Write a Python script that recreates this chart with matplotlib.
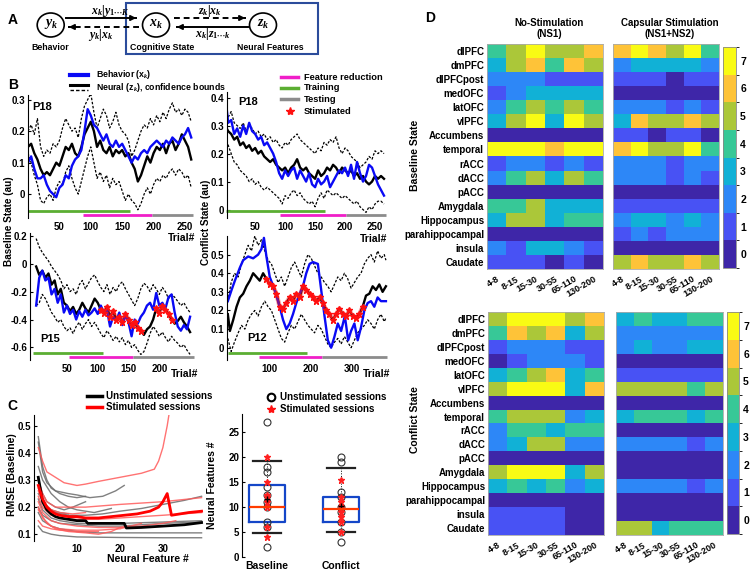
import numpy as np
import matplotlib
matplotlib.use('Agg')
import matplotlib.pyplot as plt
from matplotlib.colors import ListedColormap, BoundaryNorm
from matplotlib.patches import Ellipse, Rectangle
from matplotlib.ticker import FuncFormatter

plt.rcParams['font.family'] = ['Liberation Sans', 'DejaVu Sans']
plt.rcParams['font.weight'] = 'bold'
plt.rcParams['axes.labelweight'] = 'bold'
plt.rcParams['axes.unicode_minus'] = False
plt.rcParams['mathtext.fontset'] = 'custom'
plt.rcParams['mathtext.rm'] = 'Liberation Serif:bold'
plt.rcParams['mathtext.it'] = 'Liberation Serif:italic:bold'
plt.rcParams['mathtext.bf'] = 'Liberation Serif:bold'

# ---------------- Panel B data ----------------
p18b_t = np.arange(0, 261, 5)
p18b_beh = [0.10,0.12,0.08,0.05,0.05,0.06,0.03,0.01,0.00,-0.01,
            0.02,0.03,0.06,0.05,0.09,0.11,0.12,0.14,0.20,0.27,
            0.25,0.22,0.21,0.19,0.17,0.19,0.16,0.15,0.17,0.15,
            0.16,0.14,0.12,0.10,0.12,0.11,0.13,0.14,0.13,0.15,
            0.16,0.17,0.16,0.15,0.17,0.16,0.18,0.17,0.16,0.18,
            0.19,0.21,0.18]
p18b_neu = [0.15,0.16,0.13,0.11,0.08,0.06,0.07,0.06,0.08,0.10,
            0.09,0.12,0.15,0.14,0.16,0.13,0.12,0.15,0.19,0.21,
            0.23,0.20,0.15,0.17,0.14,0.13,0.15,0.12,0.14,0.13,
            0.14,0.12,0.13,0.10,0.08,0.04,0.06,0.09,0.12,0.10,
            0.13,0.15,0.14,0.16,0.13,0.16,0.17,0.14,0.16,0.19,
            0.17,0.15,0.11]
p18b_up = [0.20,0.22,0.19,0.24,0.15,0.12,0.14,0.13,0.16,0.15,
           0.17,0.21,0.24,0.22,0.20,0.21,0.18,0.24,0.28,0.30,
           0.32,0.26,0.21,0.24,0.27,0.25,0.21,0.23,0.26,0.22,
           0.20,0.19,0.17,0.12,0.14,0.17,0.20,0.22,0.21,0.24,
           0.22,0.25,0.23,0.26,0.24,0.27,0.29,0.26,0.27,0.25,
           0.27,0.26,0.23]
p18b_lo = [0.13,0.10,0.06,0.03,-0.02,-0.03,-0.01,0.00,-0.02,0.02,
           0.04,0.03,0.07,0.09,0.05,0.02,0.00,0.04,0.08,0.12,
           0.15,0.10,0.05,0.07,0.04,0.06,0.02,0.05,0.03,0.04,
           0.01,-0.02,0.00,-0.02,-0.03,-0.05,-0.03,0.00,0.02,0.00,
           0.03,0.05,0.04,0.06,0.05,0.07,0.08,0.06,0.08,0.07,
           0.05,0.06,0.02]
p18b_train = [0, 163]
p18b_feat = [88, 197]
p18b_test = [197, 263]

p18c_t = np.arange(0, 266, 5)
p18c_beh = [0.41,0.31,0.32,0.27,0.29,0.26,0.30,0.27,0.31,0.28,
            0.27,0.25,0.26,0.23,0.24,0.22,0.20,0.17,0.13,0.11,
            0.14,0.12,0.14,0.15,0.11,0.14,0.12,0.10,0.13,0.09,
            0.08,0.11,0.09,0.10,0.12,0.08,0.10,0.12,0.14,0.13,
            0.15,0.12,0.16,0.11,0.17,0.13,0.10,0.12,0.16,0.15,
            0.12,0.09,0.07,0.05]
p18c_neu = [0.30,0.28,0.27,0.25,0.26,0.23,0.24,0.22,0.23,0.21,
            0.22,0.20,0.21,0.19,0.18,0.17,0.18,0.16,0.15,0.14,
            0.15,0.13,0.15,0.16,0.18,0.15,0.14,0.15,0.13,0.12,
            0.11,0.14,0.12,0.13,0.15,0.14,0.16,0.15,0.13,0.15,
            0.14,0.13,0.14,0.12,0.13,0.11,0.12,0.10,0.09,0.10,
            0.12,0.11,0.12,0.11]
p18c_up = [0.34,0.33,0.35,0.31,0.30,0.29,0.31,0.28,0.30,0.29,
           0.27,0.28,0.26,0.27,0.25,0.26,0.24,0.25,0.23,0.22,
           0.24,0.23,0.25,0.26,0.27,0.25,0.24,0.23,0.22,0.21,
           0.20,0.22,0.21,0.24,0.23,0.25,0.24,0.26,0.22,0.20,
           0.22,0.21,0.19,0.18,0.17,0.15,0.16,0.17,0.19,0.18,
           0.21,0.20,0.21,0.20]
p18c_lo = [0.26,0.23,0.20,0.17,0.16,0.14,0.13,0.12,0.10,0.11,
           0.09,0.10,0.08,0.07,0.08,0.07,0.06,0.05,0.04,0.02,
           0.05,0.04,0.06,0.07,0.05,0.06,0.04,0.03,0.02,0.03,
           0.01,0.04,0.06,0.04,0.07,0.06,0.05,0.06,0.05,0.04,
           0.05,0.04,0.03,0.02,0.03,0.01,0.00,-0.01,0.01,0.00,
           0.02,0.03,0.03,0.02]
p18c_train = [2, 166]
p18c_feat = [92, 202]
p18c_test = [202, 268]

p15_t = np.arange(0, 251, 5)
p15_beh = [-0.30,-0.10,-0.05,-0.12,-0.10,-0.22,-0.18,-0.28,-0.22,-0.35,
           -0.30,-0.36,-0.33,-0.40,-0.34,-0.38,-0.33,-0.37,-0.35,-0.32,
           -0.36,-0.30,-0.35,-0.33,-0.45,-0.38,-0.41,-0.35,-0.44,-0.37,
           -0.42,-0.52,-0.40,-0.43,-0.38,-0.35,-0.30,-0.28,-0.33,-0.21,
           -0.30,-0.28,-0.32,-0.24,-0.22,-0.35,-0.45,-0.48,-0.44,-0.47,
           -0.38]
p15_neu = [-0.02,-0.08,-0.05,-0.10,-0.07,-0.15,-0.12,-0.22,-0.18,-0.28,
           -0.30,-0.34,-0.31,-0.36,-0.33,-0.28,-0.32,-0.35,-0.30,-0.25,
           -0.28,-0.33,-0.35,-0.31,-0.38,-0.34,-0.40,-0.38,-0.42,-0.36,
           -0.40,-0.44,-0.42,-0.46,-0.48,-0.51,-0.47,-0.45,-0.40,-0.32,
           -0.35,-0.30,-0.33,-0.36,-0.40,-0.43,-0.41,-0.38,-0.42,-0.45,
           -0.49]
p15_up = [0.18,0.12,0.08,0.05,0.02,-0.02,-0.05,-0.08,-0.12,-0.18,
          -0.15,-0.20,-0.18,-0.22,-0.15,-0.12,-0.18,-0.14,-0.10,-0.08,
          -0.13,-0.17,-0.20,-0.15,-0.22,-0.17,-0.20,-0.15,-0.13,-0.18,
          -0.22,-0.26,-0.30,-0.25,-0.18,-0.14,-0.16,-0.20,-0.15,-0.18,
          -0.22,-0.17,-0.20,-0.25,-0.22,-0.24,-0.27,-0.30,-0.28,-0.32,
          -0.35]
p15_lo = [-0.30,-0.28,-0.22,-0.25,-0.30,-0.35,-0.38,-0.42,-0.40,-0.45,
          -0.48,-0.46,-0.50,-0.45,-0.42,-0.47,-0.43,-0.40,-0.45,-0.42,
          -0.46,-0.50,-0.53,-0.48,-0.51,-0.55,-0.52,-0.56,-0.53,-0.58,
          -0.55,-0.60,-0.58,-0.62,-0.65,-0.63,-0.57,-0.50,-0.45,-0.48,
          -0.52,-0.49,-0.53,-0.56,-0.52,-0.55,-0.57,-0.60,-0.58,-0.62,
          -0.65]
p15_stim = [[105, 170], [195, 220]]
p15_train = [-5, 108]
p15_feat = [53, 158]
p15_test = [158, 256]

p12_tb = [0,9,17,29,37,49,61,73,81,87,93,101,113,125,133,141,149,157,165,173,
          181,189,197,205,217,225,233,241,249,257,265,273,282,290,297,305,313,321,329,337,
          345,353,361,369,377,381]
p12_beh = [0.25,0.31,0.36,0.43,0.47,0.49,0.48,0.50,0.53,0.59,0.49,0.38,0.31,0.22,0.15,0.10,0.13,0.18,0.24,0.29,
           0.33,0.40,0.45,0.46,0.45,0.31,0.17,0.04,0.00,0.06,0.13,0.09,0.17,0.04,0.09,0.13,0.04,0.11,0.20,0.24,
           0.25,0.22,0.27,0.25,0.25,0.25]
p12_tn = [0,5,13,21,29,37,45,53,61,69,77,85,93,101,109,117,125,133,141,149,
          157,165,173,181,189,197,205,213,221,229,237,245,253,261,269,277,285,293,301,309,
          317,325,333,341,349,357,365,373,381]
p12_neu = [0.18,0.09,0.15,0.22,0.27,0.29,0.33,0.36,0.40,0.38,0.36,0.40,0.37,0.34,0.33,0.29,0.22,0.21,0.24,0.27,
           0.25,0.29,0.27,0.33,0.31,0.29,0.27,0.25,0.27,0.24,0.20,0.18,0.15,0.18,0.21,0.18,0.17,0.20,0.17,0.16,
           0.18,0.22,0.28,0.29,0.33,0.31,0.34,0.30,0.33]
p12_tc = [0,8,16,25,33,41,49,57,65,73,81,89,97,105,113,121,129,137,145,153,
          161,169,177,185,193,201,209,217,225,233,241,249,257,265,273,281,289,297,305,313,
          321,329,337,345,353,361,369,377,381]
p12_up = [0.25,0.35,0.40,0.38,0.45,0.50,0.55,0.52,0.60,0.55,0.58,0.52,0.47,0.45,0.40,0.35,0.38,0.33,0.38,0.43,
          0.46,0.42,0.38,0.45,0.50,0.48,0.44,0.40,0.38,0.35,0.33,0.30,0.34,0.38,0.36,0.40,0.37,0.32,0.35,0.38,
          0.40,0.45,0.48,0.50,0.46,0.52,0.48,0.50,0.47]
p12_lo = [0.05,-0.02,0.03,0.08,0.12,0.10,0.15,0.18,0.20,0.17,0.22,0.25,0.22,0.20,0.15,0.10,0.05,0.03,0.08,0.12,
          0.10,0.14,0.18,0.15,0.12,0.10,0.08,0.12,0.10,0.06,0.02,0.00,0.03,0.05,0.02,0.06,0.03,0.00,0.04,0.08,
          0.10,0.12,0.15,0.13,0.10,0.15,0.18,0.14,0.16]
p12_stim = [[93, 325]]
p12_train = [0, 190]
p12_feat = [76, 228]
p12_test = [228, 384]

# ---------------- Panel C data ----------------
unstim_x = [[1,2,3,4,6,8,10,12],
            [1,2,3,5,8,10,13,16,19,21],
            [1,2,4,6,8,10,14,18],
            [1,3,5,8,12,16,20,25,30,35,39],
            [1,2,4,6,10,15,20,30,39],
            [1,2,4,6,10,20,30,39],
            [1,2,4,6,10,15,20,25,30,39],
            [1,2,4,6,10,15,20,30,39],
            [1,2,3,5,7,9,12],
            [1,2,4,6,8]]
unstim_y = [[0.46,0.35,0.30,0.27,0.25,0.24,0.235,0.24],
            [0.44,0.33,0.29,0.26,0.25,0.245,0.235,0.24,0.26,0.28],
            [0.35,0.30,0.25,0.22,0.20,0.19,0.18,0.195],
            [0.25,0.20,0.18,0.17,0.17,0.175,0.185,0.195,0.21,0.225,0.24],
            [0.18,0.15,0.13,0.12,0.11,0.105,0.105,0.105,0.105],
            [0.13,0.11,0.10,0.095,0.09,0.088,0.087,0.087],
            [0.20,0.17,0.15,0.14,0.135,0.13,0.13,0.135,0.14,0.145],
            [0.23,0.19,0.16,0.15,0.14,0.14,0.14,0.145,0.15],
            [0.30,0.25,0.22,0.20,0.19,0.20,0.22],
            [0.27,0.22,0.19,0.18,0.175]]
stim_x = [[1,2,3,5,7,10,12,15,20,25,28,29,30,31,31.5],
          [1,2,3,5,8,12,20,30,39],
          [1,2,4,6,10,15,20,25,30,39],
          [1,2,4,6,10,15,20,25,30,33],
          [1,2,4,6,10,15,20,25],
          [1,3,5,8,12,15,18,20,22],
          [1,2,4,6,9,12],
          [1,2,4,6,10,15]]
stim_y = [[0.42,0.37,0.33,0.31,0.29,0.28,0.285,0.295,0.31,0.325,0.34,0.37,0.42,0.50,0.55],
          [0.30,0.25,0.22,0.20,0.20,0.20,0.21,0.22,0.235],
          [0.24,0.20,0.17,0.16,0.155,0.155,0.16,0.165,0.17,0.18],
          [0.22,0.18,0.15,0.14,0.13,0.125,0.125,0.13,0.14,0.15],
          [0.20,0.16,0.13,0.12,0.115,0.115,0.12,0.14],
          [0.19,0.14,0.12,0.11,0.105,0.10,0.11,0.125,0.13],
          [0.26,0.22,0.19,0.18,0.175,0.18],
          [0.15,0.13,0.12,0.115,0.11,0.11]]
mean_unstim_x = [1,2,3,4,5,6,8,10,12,12.5,15,18,21,21.5,25,30,35,39]
mean_unstim_y = [0.31,0.22,0.19,0.175,0.165,0.16,0.155,0.15,0.15,0.14,0.14,0.14,0.14,0.123,0.125,0.13,0.135,0.143]
mean_stim_x = [1,2,3,4,5,6,8,10,12,15,18,21,24,27,29,30,31,32,34,36,39]
mean_stim_y = [0.28,0.23,0.20,0.185,0.175,0.17,0.165,0.165,0.16,0.16,0.165,0.17,0.175,0.185,0.20,0.22,0.25,0.17,0.175,0.18,0.185]

box_names = ['Baseline', 'Conflict']
box_q1 = [7, 7]
box_q3 = [14.3, 12]
box_med = [10, 9.5]
box_lo = [4.7, 5]
box_hi = [19.2, 17.8]
box_mean = [11.5, 10.1]
base_unstim = [27, 18, 17, 14, 12.3, 10.9, 10, 6.9, 6, 2]
base_stim = [20, 15, 12.3, 12, 11, 10, 6, 4]
conf_unstim = [20, 19, 13, 12, 10, 9, 7, 5, 3]
conf_stim = [15.3, 12, 11, 10, 9, 8, 7, 5]

# ---------------- Panel D data ----------------
regions = ['dlPFC','dmPFC','dlPFCpost','medOFC','latOFC','vlPFC','Accumbens','temporal',
           'rACC','dACC','pACC','Amygdala','Hippocampus','parahippocampal','insula','Caudate']
bands = ['4-8','8-15','15-30','30-55','65-110','130-200']
base_ns1 = [[4,5,7,5,5,6],[3,5,6,4,6,5],[2,2,2,1,1,1],[1,2,3,3,3,3],[2,4,5,4,5,4],[3,5,7,3,7,5],
            [0,0,0,0,0,0],[7,7,7,6,7,7],[1,2,2,1,2,1],[2,4,5,3,5,4],[0,0,0,0,0,0],[4,4,5,3,3,3],
            [3,5,5,3,4,4],[0,0,0,0,0,0],[2,1,3,3,2,1],[1,1,1,0,1,0]]
base_ns12 = [[6,7,6,5,7,4],[2,3,3,3,3,2],[1,1,1,0,1,1],[0,0,0,0,0,0],[2,2,2,1,2,1],[3,6,5,5,6,5],
             [1,1,0,1,1,0],[6,7,5,5,7,4],[2,2,2,1,2,2],[2,2,2,1,2,1],[0,0,0,0,0,0],[1,1,1,1,1,1],
             [2,3,3,2,3,2],[1,2,1,2,2,2],[0,0,0,0,0,0],[5,6,5,5,6,5]]
conf_ns1 = [[5,7,7,7,5,6],[4,6,5,6,3,5],[1,2,2,2,1,1],[0,1,2,2,2,1],[3,4,5,6,3,4],[5,7,7,7,3,6],
            [0,0,0,0,0,0],[4,5,5,5,2,3],[2,4,4,3,4,4],[2,3,5,5,2,2],[0,0,0,0,0,0],[5,7,7,7,3,5],
            [3,4,3,4,2,3],[0,0,0,0,0,0],[1,1,1,1,0,0],[1,1,1,1,0,0]]
conf_ns12 = [[3,4,3,3,4,4],[2,2,2,2,2,2],[2,3,2,2,3,3],[0,0,0,0,0,0],[1,1,1,1,1,1],[5,5,5,5,4,5],
             [0,0,0,0,0,0],[3,4,4,4,3,4],[0,0,0,0,0,0],[2,2,2,2,1,2],[0,0,0,0,0,0],[0,0,0,0,0,0],
             [2,2,2,2,1,2],[0,0,0,0,0,0],[0,0,0,0,0,0],[5,5,3,4,4,4]]

parula8 = ['#3E26A8', '#4852F4', '#2D87F7', '#11B1D6', '#37C897', '#ABC739', '#FEC338', '#F9FB14']

# ---------------- figure ----------------
W, H = 750, 572
fig = plt.figure(figsize=(7.5, 5.72), dpi=100)

def pax(l, t, r, b):
    return fig.add_axes([l / W, 1 - b / H, (r - l) / W, (b - t) / H])

fmt = FuncFormatter(lambda v, p: f'{v:g}')

def ts_panel(box, t_b, beh, t_n, neu, t_c, up, lo, stim, train, feat, test,
             xlim, ylim, xticks, yticks):
    ax = pax(*box)
    hpx = box[3] - box[1]
    t_n = np.asarray(t_n); neu = np.asarray(neu)
    ax.plot(t_c, up, color='k', lw=0.9, dashes=(2, 1.3))
    ax.plot(t_c, lo, color='k', lw=0.9, dashes=(2, 1.3))
    ax.plot(t_n, neu, color='k', lw=1.7)
    ax.plot(t_b, beh, color='#0A0AF5', lw=1.7)
    for a, b in stim:
        m = (t_n >= a) & (t_n <= b)
        ax.plot(t_n[m], neu[m], color='#FF2020', lw=3.2, alpha=0.45, solid_capstyle='round')
        ax.plot(t_n[m], neu[m], '*', color='#FF1010', ms=4.5)
    tr = ax.get_xaxis_transform()
    ax.plot(train, [7 / hpx] * 2, color='#5BAE32', lw=2, transform=tr, clip_on=False, solid_capstyle='butt')
    ax.plot(feat, [3 / hpx] * 2, color='#F01EC8', lw=2, transform=tr, clip_on=False, solid_capstyle='butt')
    ax.plot(test, [3 / hpx] * 2, color='#8C8C8C', lw=2, transform=tr, clip_on=False, solid_capstyle='butt')
    ax.set_xlim(xlim); ax.set_ylim(ylim)
    for s in ['top', 'right', 'bottom']:
        ax.spines[s].set_visible(False)
    ax.spines['left'].set_linewidth(0.8)
    ax.set_xticks(xticks); ax.set_yticks(yticks)
    ax.yaxis.set_major_formatter(fmt)
    ax.tick_params(axis='x', length=0, labelsize=7, pad=3)
    ax.tick_params(axis='y', direction='in', length=2, labelsize=7, pad=2)
    return ax

ts_panel((28, 95, 195, 218), p18b_t, p18b_beh, p18b_t, p18b_neu, p18b_t, p18b_up, p18b_lo,
         [], p18b_train, p18b_feat, p18b_test, (0, 266), (-0.076, 0.315),
         [50, 100, 150, 200, 250], [0, 0.1, 0.2, 0.3])
ts_panel((227, 92, 387, 218), p18c_t, p18c_beh, p18c_t, p18c_neu, p18c_t, p18c_up, p18c_lo,
         [], p18c_train, p18c_feat, p18c_test, (3, 270), (-0.03, 0.42),
         [50, 100, 150, 200, 250], [0, 0.1, 0.2, 0.3, 0.4])
ts_panel((30, 233, 195, 360), p15_t, p15_beh, p15_t, p15_neu, p15_t, p15_up, p15_lo,
         p15_stim, p15_train, p15_feat, p15_test, (-10, 258), (-0.69, 0.22),
         [50, 100, 150, 200], [-0.6, -0.4, -0.2, 0, 0.2])
ts_panel((227, 236, 388, 360), p12_tb, p12_beh, p12_tn, p12_neu, p12_tc, p12_up, p12_lo,
         p12_stim, p12_train, p12_feat, p12_test, (-2, 386), (-0.066, 0.6),
         [100, 200, 300], [0, 0.1, 0.2, 0.3, 0.4, 0.5])

# ---- Panel C left ----
axc = pax(34, 415, 205, 541)
for xs, ys in zip(unstim_x, unstim_y):
    axc.plot(xs, ys, color='#6A6A6A', lw=1.0, alpha=0.85)
for xs, ys in zip(stim_x, stim_y):
    axc.plot(xs, ys, color='#FF5A5A', lw=1.0, alpha=0.85)
axc.plot(mean_unstim_x, mean_unstim_y, color='k', lw=2.0)
axc.plot(mean_stim_x, mean_stim_y, color='#FF0000', lw=2.0)
axc.set_xlim(0, 39.8); axc.set_ylim(0.075, 0.54)
axc.set_xticks([10, 20, 30]); axc.set_yticks([0.1, 0.2, 0.3, 0.4, 0.5])
axc.yaxis.set_major_formatter(fmt)
for s in ['top', 'right', 'bottom']:
    axc.spines[s].set_visible(False)
axc.spines['left'].set_linewidth(0.8)
axc.tick_params(axis='x', length=0, labelsize=7, pad=2)
axc.tick_params(axis='y', direction='in', length=2, labelsize=7, pad=2)

# ---- Panel C right ----
axb = pax(242, 414, 378, 557)
stats = [dict(med=box_med[i], q1=box_q1[i], q3=box_q3[i], whislo=box_lo[i], whishi=box_hi[i],
              fliers=[], label=box_names[i]) for i in range(2)]
axb.bxp(stats, positions=[1, 2], widths=0.48, showfliers=False,
        boxprops=dict(color='#1446C8', lw=1.6), medianprops=dict(color='#FF3B00', lw=1.6),
        whiskerprops=dict(color='k', lw=0.7, ls=':'), capprops=dict(color='#222222', lw=1.6),
        capwidths=0.38)
axb.plot([1] * len(base_unstim), base_unstim, 'o', mfc='none', mec='#333333', ms=5, mew=0.8)
axb.plot([2] * len(conf_unstim), conf_unstim, 'o', mfc='none', mec='#333333', ms=5, mew=0.8)
axb.plot([1] * len(base_stim), base_stim, '*', color='#FF2020', ms=4.5)
axb.plot([2] * len(conf_stim), conf_stim, '*', color='#FF2020', ms=4.5)
axb.plot([1, 2], box_mean, '+', color='k', ms=5, mew=1)
axb.set_xlim(0.66, 2.5); axb.set_ylim(0, 28.5)
axb.set_xticks([1, 2]); axb.set_xticklabels(box_names)
axb.set_yticks([0, 5, 10, 15, 20, 25])
for s in ['top', 'right', 'bottom']:
    axb.spines[s].set_visible(False)
axb.spines['left'].set_linewidth(0.8)
axb.tick_params(axis='x', length=0, labelsize=7.5, pad=3)
axb.tick_params(axis='y', direction='in', length=2, labelsize=7, pad=2)

# ---- Panel D ----
cmap = ListedColormap(parula8)
norm = BoundaryNorm(np.arange(-0.5, 8.5, 1), 8)

def heat(box, data, show_rows):
    ax = pax(*box)
    im = ax.imshow(np.array(data), cmap=cmap, norm=norm, aspect='auto', interpolation='nearest')
    ax.set_xticks(range(len(bands)))
    ax.set_xticklabels(bands, rotation=30, ha='right', rotation_mode='anchor', fontsize=6.5)
    ax.set_yticks(range(len(regions)))
    if show_rows:
        ax.set_yticklabels(regions, fontsize=7)
    else:
        ax.set_yticklabels([])
    ax.tick_params(length=0, pad=2)
    ax.tick_params(axis='x', pad=4)
    for s in ax.spines.values():
        s.set_color('#AAAAAA'); s.set_linewidth(0.6)
    return im

heat((487, 44, 603, 269), base_ns1, True)
im = heat((613, 44, 719, 269), base_ns12, False)
heat((488, 312, 604, 535), conf_ns1, True)
im2 = heat((616, 312, 723, 535), conf_ns12, False)
for cbox, img in [((723, 47, 736, 268), im), ((727, 312, 739, 534), im2)]:
    cax = pax(*cbox)
    cb = fig.colorbar(img, cax=cax, ticks=range(8))
    cb.ax.tick_params(labelsize=7.5, length=0, pad=3)
    cb.outline.set_linewidth(0.6)
    cb.outline.set_edgecolor('#888888')

# ---------------- overlay annotations ----------------
ov = fig.add_axes([0, 0, 1, 1])
ov.set_xlim(0, W); ov.set_ylim(H, 0); ov.axis('off')

# Panel A
ov.add_patch(Rectangle((126, 3), 192, 51, fill=False, ec='#2B4C9B', lw=1.5))
for cx, lab in [(50.7, r'$y_k$'), (156, r'$x_k$'), (263, r'$z_k$')]:
    ov.add_patch(Ellipse((cx, 25), 27, 24, fill=False, ec='k', lw=1.2))
    ov.text(cx, 24, lab, ha='center', va='center', fontsize=10)

def arrow(x0, x1, y, dashed):
    d = 1 if x1 > x0 else -1
    if dashed:
        ov.plot([x0, x1 - d * 5], [y, y], color='k', lw=1.4, dashes=(3, 2))
    else:
        ov.plot([x0, x1 - d * 5], [y, y], color='k', lw=1.4)
    ov.annotate('', xy=(x1, y), xytext=(x1 - d * 6, y),
                arrowprops=dict(arrowstyle='-|>', color='k', lw=1.2, mutation_scale=8))

arrow(66, 139, 18, False)
arrow(139, 66, 27, True)
arrow(174, 248, 18, True)
arrow(248, 174, 27, False)
ov.text(110, 11, r'$x_k|y_{1\cdots K}$', ha='center', va='center', fontsize=8.5)
ov.text(101, 35, r'$y_k|x_k$', ha='center', va='center', fontsize=8.5)
ov.text(210, 11, r'$z_k|x_k$', ha='center', va='center', fontsize=8.5)
ov.text(213, 34, r'$x_k|z_{1\cdots k}$', ha='center', va='center', fontsize=8.5)
ov.text(50, 47, 'Behavior', ha='center', va='center', fontsize=6.3)
ov.text(162, 47, 'Cognitive State', ha='center', va='center', fontsize=6.3)
ov.text(270, 47, 'Neural Features', ha='center', va='center', fontsize=6.3)

# panel letters
for x, y, s in [(8, 20, 'A'), (8, 85, 'B'), (7, 406, 'C'), (425, 18, 'D')]:
    ov.text(x, y, s, ha='left', va='center', fontsize=10)

# Panel B legend
ov.plot([70, 88], [75, 75], color='#0A0AF5', lw=3)
ov.text(96, 74.5, r'Behavior (x$_k$)', va='center', fontsize=6.3)
ov.plot([70, 88], [85, 85], color='k', lw=2.2)
ov.plot([70, 88], [90, 90], color='k', lw=1, dashes=(2.5, 1.5))
ov.text(96, 88, r'Neural (z$_k$), confidence bounds', va='center', fontsize=6.3)
for y, c, s in [(77, '#F01EC8', 'Feature reduction'), (88, '#5BAE32', 'Training'),
                (99, '#8C8C8C', 'Testing')]:
    ov.plot([281, 298], [y, y], color=c, lw=2.5)
    ov.text(304, y, s, va='center', fontsize=6.7)
ov.plot([290], [111], '*', color='#FF1010', ms=6)
ov.text(304, 111, 'Stimulated', va='center', fontsize=6.7)

# Panel B labels
ov.text(9, 221, 'Baseline State (au)', rotation=90, ha='center', va='center', fontsize=7.2)
ov.text(206, 222, 'Conflict State (au)', rotation=90, ha='center', va='center', fontsize=7.2)
for x, y in [(182, 238), (374, 239), (185, 374), (377, 374)]:
    ov.text(x, y, 'Trial#', ha='center', va='center', fontsize=7.5)
for x, y, s in [(42, 107, 'P18'), (248, 102, 'P18'), (50, 339, 'P15'), (257, 338, 'P12')]:
    ov.text(x, y, s, ha='center', va='center', fontsize=8)

# Panel C labels & legends
ov.text(12, 475, 'RMSE (Baseline)', rotation=90, ha='center', va='center', fontsize=7.5)
ov.text(148, 559, 'Neural Feature #', ha='center', va='center', fontsize=7.5)
ov.text(212, 485, 'Neural Features #', rotation=90, ha='center', va='center', fontsize=7.5)
ov.plot([87, 102], [396, 396], color='k', lw=2.5)
ov.text(106, 396, 'Unstimulated sessions', va='center', fontsize=7)
ov.plot([87, 102], [407, 407], color='#FF0000', lw=2.5)
ov.text(106, 407, 'Stimulated sessions', va='center', fontsize=7)
ov.plot([271], [397], 'o', mfc='none', mec='k', ms=5.5, mew=1.5)
ov.text(280, 397, 'Unstimulated sessions', va='center', fontsize=7)
ov.plot([271], [409], '*', color='#FF1010', ms=6)
ov.text(280, 409, 'Stimulated sessions', va='center', fontsize=7)

# Panel D labels
ov.text(549, 23, 'No-Stimulation', ha='center', va='center', fontsize=7)
ov.text(549, 34, '(NS1)', ha='center', va='center', fontsize=7)
ov.text(670, 23, 'Capsular Stimulation', ha='center', va='center', fontsize=7)
ov.text(670, 34, '(NS1+NS2)', ha='center', va='center', fontsize=7)
ov.text(415, 155, 'Baseline State', rotation=90, ha='center', va='center', fontsize=7.5)
ov.text(415, 420, 'Conflict State', rotation=90, ha='center', va='center', fontsize=7.5)

fig.savefig('out.png', dpi=100)
